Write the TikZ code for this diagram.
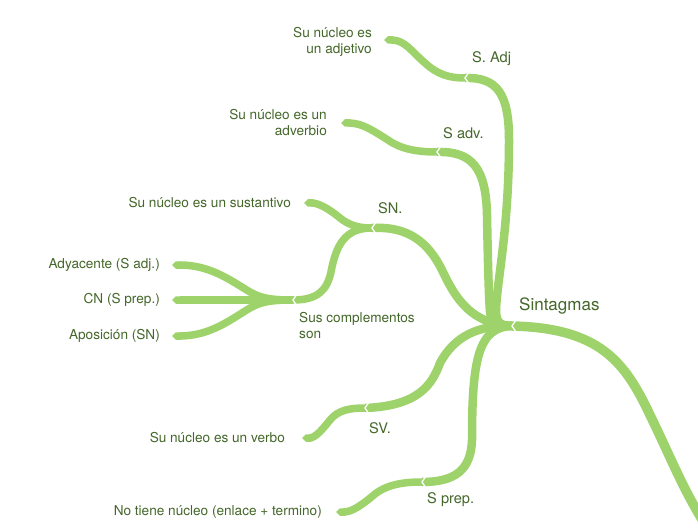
\documentclass[tikz,border=0pt]{standalone}
\usepackage{fontspec}
\setmainfont{TeX Gyre Heros}
\usetikzlibrary{arrows.meta}
\definecolor{branch}{HTML}{9DD36A}
\definecolor{txt}{HTML}{44672A}
\begin{document}
\begin{tikzpicture}[x=1pt,y=-1pt,
  rootline/.style={draw=branch,line width=9.5pt},
  lvlone/.style={draw=branch,line width=8.5pt},
  lvltwo/.style={draw=branch,line width=7.5pt},
  leafline/.style={draw=branch,line width=7.5pt,{Triangle Cap}-},
  notchmark/.style={draw=white,line width=1.3pt},
  leaftext/.style={text=txt,font=\fontsize{13.6}{16}\selectfont,inner sep=0pt,anchor=east,align=right},
  midtext/.style={text=txt,font=\fontsize{13.6}{16}\selectfont,inner sep=0pt,anchor=west,align=left},
  onetext/.style={text=txt,font=\fontsize{14.6}{17}\selectfont,inner sep=0pt,anchor=west},
  roottext/.style={text=txt,font=\fontsize{17}{20}\selectfont,inner sep=0pt,anchor=west}
]
\useasboundingbox (0,0) rectangle (698,529);
\fill[white] (0,0) rectangle (698,529);
\clip (0,0) rectangle (698,529);

% notch coordinates
\coordinate (R) at (512,326);
\coordinate (E) at (712,535);
\coordinate (A) at (465,78);
\coordinate (B) at (437,152);
\coordinate (C) at (372,228);
\coordinate (G) at (293,300);
\coordinate (D) at (365,408);
\coordinate (F) at (422,482);
% leaf tips
\coordinate (LA) at (384,40);
\coordinate (LB) at (341,123);
\coordinate (LS) at (304,203);
\coordinate (LAdy) at (172,265);
\coordinate (LCN) at (172,300);
\coordinate (LApo) at (172,336);
\coordinate (LV) at (302,438);
\coordinate (LP) at (336,512);

% root branch
\draw[rootline] (R) .. controls (600,328) and (625,362) .. (650,415) .. controls (672,460) and (685,495) .. (E);

% level one
\draw[lvlone] (A) .. controls (498,77) and (509,95) .. (509,140) .. controls (509,230) and (497,280) .. (496,310) .. controls (496,322) and (500,326) .. (R);
\draw[lvlone] (B) .. controls (472,151) and (486,168) .. (487,215) .. controls (488,270) and (489,300) .. (490,312) .. controls (491,322) and (498,326) .. (R);
\draw[lvlone] (C) .. controls (408,226) and (428,242) .. (442,270) .. controls (456,300) and (472,324) .. (R);
\draw[lvlone] (D) .. controls (418,406) and (432,385) .. (440,363) .. controls (455,335) and (480,325) .. (R);
\draw[lvlone] (F) .. controls (455,482) and (471,470) .. (472,440) .. controls (472,360) and (478,327) .. (R);

% level two
\draw[leafline] (LA) .. controls (405,40) and (412,52) .. (425,63) .. controls (438,75) and (450,78) .. (A);
\draw[leafline] (LB) .. controls (362,123) and (372,130) .. (388,140) .. controls (402,150) and (420,152) .. (B);
\draw[leafline] (LS) .. controls (318,203) and (328,208) .. (340,218) .. controls (350,226) and (360,228) .. (C);
\draw[lvltwo] (G) .. controls (318,300) and (327,290) .. (331,272) .. controls (336,245) and (345,228) .. (C);
\draw[leafline] (LV) .. controls (315,438) and (322,430) .. (330,420) .. controls (338,410) and (350,408) .. (D);
\draw[leafline] (LP) .. controls (352,512) and (362,505) .. (375,494) .. controls (388,484) and (405,482) .. (F);

% level three
\draw[leafline] (LAdy) .. controls (210,265) and (230,280) .. (250,292) .. controls (262,299) and (275,300) .. (G);
\draw[leafline] (LCN) -- (G);
\draw[leafline] (LApo) .. controls (210,336) and (230,320) .. (250,308) .. controls (262,301) and (275,300) .. (G);

% notches
\foreach \p in {R,A,B,C,G,D,F}{
  \draw[notchmark] ([shift={(4,-6)}]\p) -- (\p) -- ([shift={(4,6)}]\p);
}

% labels
\node[roottext] (tRoot) at (519,306) {Sintagmas};
\node[onetext] (tAdj) at (472,59) {S. Adj};
\node[onetext] (tAdv) at (443,133) {S adv.};
\node[onetext] (tSN) at (378,208) {SN.};
\node[onetext] (tSV) at (369,428) {SV.};
\node[onetext] (tSP) at (427,500) {S prep.};
\node[midtext] (tSus) at (299,326) {Sus complementos\\son};
\node[leaftext] (lA) at (372,42) {Su núcleo es\\un adjetivo};
\node[leaftext] (lB) at (327,123) {Su núcleo es un\\adverbio};
\node[leaftext] (lS) at (291,203) {Su núcleo es un sustantivo};
\node[leaftext] (lAdy) at (160,265) {Adyacente (S adj.)};
\node[leaftext] (lCN) at (160,300) {CN (S prep.)};
\node[leaftext] (lApo) at (160,336) {Aposición (SN)};
\node[leaftext] (lV) at (285,438) {Su núcleo es un verbo};
\node[leaftext] (lP) at (322,512) {No tiene núcleo (enlace + termino)};
\end{tikzpicture}
\end{document}
